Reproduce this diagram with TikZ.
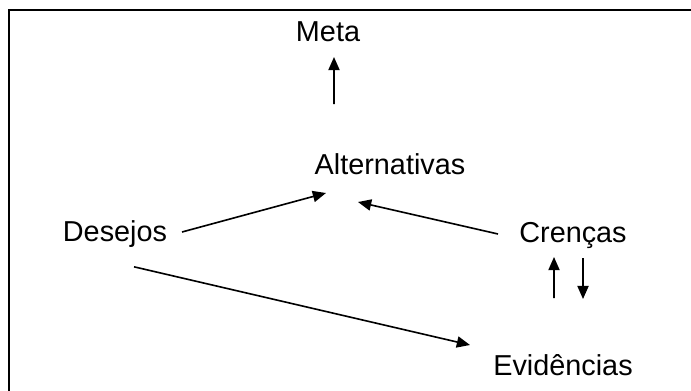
\documentclass[tikz,border=0pt]{standalone}
\usepackage{fontspec}
\setmainfont{Liberation Sans}
\usetikzlibrary{arrows.meta,positioning}

\begin{document}
\begin{tikzpicture}[>={Triangle[length=3.3mm,width=2.8mm]}]
  \tikzstyle{lbl}=[font=\fontsize{20.5}{24}\selectfont, inner sep=0pt, anchor=base]
  \tikzstyle{arr}=[->, line width=1.15pt]

  % Moldura
  \clip (0,0) rectangle (17.275,-9.75);
  \draw[line width=1.4pt] (0.225,-0.25) rectangle (18,-10.5);

  % Conceitos
  \node[lbl] (meta) at (8.2,-1.045) {Meta};
  \node[lbl] (alt) at (9.75,-4.35) {Alternativas};
  \node[lbl] (des) at (2.875,-6.04) {Desejos};
  \node[lbl] (cre) at (14.325,-6.05) {Crenças};
  \node[lbl] (evi) at (14.075,-9.375) {Evidências};

  % Ligações
  \draw[arr] ([xshift=-1.4cm,yshift=1.75cm]alt.base) -- ([xshift=0.15cm,yshift=-0.38cm]meta.base);
  \draw[arr] ([xshift=1.675cm,yshift=0.24cm]des.base) -- ([xshift=-1.6cm,yshift=-0.475cm]alt.base);
  \draw[arr] ([xshift=-1.875cm,yshift=0.2cm]cre.base) -- ([xshift=-0.8cm,yshift=-0.7cm]alt.base);
  \draw[arr] ([xshift=0.475cm,yshift=-0.63cm]des.base) -- ([xshift=-2.325cm,yshift=0.75cm]evi.base);
  \draw[arr] ([xshift=-0.225cm,yshift=1.925cm]evi.base) -- ([xshift=-0.475cm,yshift=-0.375cm]cre.base);
  \draw[arr] ([xshift=0.25cm,yshift=-0.4cm]cre.base) -- ([xshift=0.5cm,yshift=1.9cm]evi.base);
\end{tikzpicture}
\end{document}
